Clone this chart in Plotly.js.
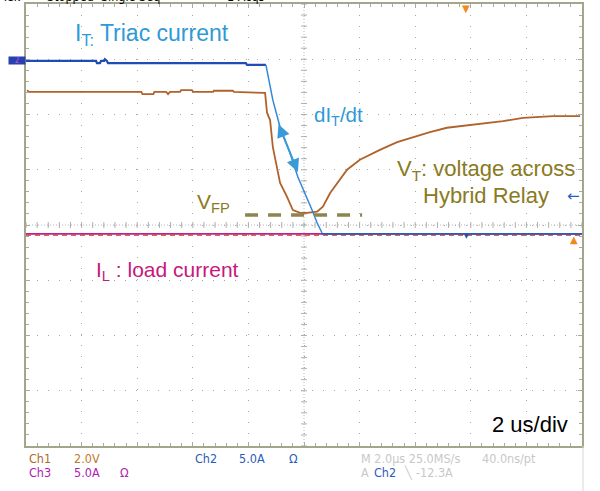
<!DOCTYPE html>
<html><head><meta charset="utf-8">
<script src="https://cdn.plot.ly/plotly-3.0.1.min.js"></script>
<style>html,body{margin:0;padding:0;background:#fff;}#chart{width:600px;height:491px;}</style>
</head><body><div id="chart"></div>
<script>
// time in microseconds (2 us/div), values in screen divisions
const tItFlat = [-10, -7.48, -7.45, -7.34, -7.30, -7.19, -7.16, -7.09, -7.05, -2.09, -2.05, -1.37];
const iItFlat = [2.97, 2.97, 2.93, 2.93, 2.97, 2.97, 3.00, 2.97, 2.93, 2.93, 2.90, 2.90];
const tItFall = [-1.37, -1.12, -0.86, -0.50, -0.22, 0.04, 0.29, 0.47, 0.65];
const iItFall = [2.90, 2.26, 1.77, 1.30, 0.87, 0.58, 0.27, 0.04, -0.145];
const tItLow = [0.65, 10];
const iItLow = [-0.16, -0.16];

const tVt = [-9.96, -9.93, -9.9, -5.85, -5.81, -5.42, -5.38, -4.96, -4.89, -4.82, -4.46, -4.42, -4.03, -3.99, -3.27, -3.24, -2.56, -2.52, -1.40,
             -1.33, -1.22, -1.12, -0.97, -0.86, -0.61, -0.40, -0.14, 0.11, 0.47, 0.68, 0.94, 1.19, 1.55, 2.01, 2.73, 3.35, 3.92, 4.53, 5.14, 5.97, 6.58, 7.16, 7.88, 8.96, 9.93];
const vVt = [2.44, 2.41, 2.41, 2.41, 2.37, 2.37, 2.41, 2.41, 2.37, 2.41, 2.41, 2.44, 2.44, 2.41, 2.41, 2.43, 2.43, 2.41, 2.39,
             2.03, 1.90, 1.41, 1.00, 0.76, 0.51, 0.27, 0.22, 0.22, 0.24, 0.33, 0.58, 0.76, 1.00, 1.18, 1.36, 1.50, 1.59, 1.68, 1.76, 1.81, 1.85, 1.88, 1.94, 1.97, 1.97];

const tIl = [-10, 10];
const iIl = [-0.16, -0.16];
const tRef = [-10, 10];
const vRef = [-0.185, -0.185];

const tVfp = [-2.12, 2.09];
const vVfp = [0.18, 0.18];

const arrowFrom = [-0.94, 1.85];
const arrowTo = [-0.22, 0.96];

const COL_IT = '#2f9ad6';
const COL_OLIVE = '#8a7a22';
const COL_MAG = '#c8177d';
const MAIN_FONT = 'Liberation Sans, Arial, sans-serif';
const SCOPE_FONT = 'Liberation Sans Narrow, DejaVu Sans Condensed, Arial Narrow, sans-serif';

const traces = [
  {x: tRef, y: vRef, mode: 'lines', line: {color: '#e8662a', width: 1.6, dash: '5px,4px'}},
  {x: tIl, y: iIl, mode: 'lines', line: {color: '#b8209a', width: 1.6}},
  {x: tItLow, y: iItLow, mode: 'lines', line: {color: '#2a5cc0', width: 1.8}},
  {x: tVt, y: vVt, mode: 'lines', line: {color: '#b0622a', width: 1.8}},
  {x: tItFlat, y: iItFlat, mode: 'lines', line: {color: '#1f4db3', width: 2.2}},
  {x: tItFall, y: iItFall, mode: 'lines', line: {color: '#3388d6', width: 1.5}},
  {x: tVfp, y: vVfp, mode: 'lines', line: {color: '#8d8550', width: 3.5, dash: '13px,10px'}}
];

const gridCol = '#a8a8a8';
const frameAxisX = {
  range: [-10, 10], dtick: 2, tick0: 0, showgrid: true, gridcolor: gridCol, gridwidth: 1, griddash: '1px,10px',
  showline: true, mirror: 'allticks', linecolor: '#a3a68a', linewidth: 2,
  ticks: 'inside', ticklen: 4, tickcolor: gridCol, showticklabels: false, zeroline: false,
  minor: {dtick: 0.4, ticks: 'inside', ticklen: 3, tickcolor: gridCol, showgrid: false}, fixedrange: true
};
const frameAxisY = {
  range: [-4, 4], dtick: 1, tick0: 0, showgrid: true, gridcolor: gridCol, gridwidth: 1, griddash: '1px,10px',
  showline: true, mirror: 'allticks', linecolor: '#a3a68a', linewidth: 2,
  ticks: 'inside', ticklen: 4, tickcolor: gridCol, showticklabels: false, zeroline: false,
  minor: {dtick: 0.2, ticks: 'inside', ticklen: 3, tickcolor: gridCol, showgrid: false}, fixedrange: true
};

// center crosshair tick marks (decoration, 5 per division)
let hTicks = '', vTicks = '';
for (let i = 0; i <= 50; i++) { const f = i / 50; hTicks += 'M' + f + ',-3L' + f + ',3'; }
for (let i = 0; i <= 40; i++) { const f = i / 40; vTicks += 'M-3,' + f + 'L3,' + f; }

function px2x(p) { return (p - 26) / 556; }
function px2y(p) { return (446 - p) / 442; }

function scopeText(text, px, py, color) {
  return {text: text, xref: 'paper', yref: 'paper', x: px2x(px), y: px2y(py), xanchor: 'left', yanchor: 'middle',
    showarrow: false, font: {family: SCOPE_FONT, size: 12.5, color: color}};
}

const annotations = [
  {text: 'I<sub>T:</sub> Triac current', x: -8.31, y: 3.45, xanchor: 'left', yanchor: 'middle', showarrow: false,
   font: {family: MAIN_FONT, size: 23, color: COL_IT}},
  {text: 'dI<sub>T</sub>/dt', x: 0.28, y: 1.98, xanchor: 'left', yanchor: 'middle', showarrow: false,
   font: {family: MAIN_FONT, size: 20.5, color: COL_IT}},
  {text: 'V<sub>T</sub>: voltage across', x: 6.55, y: 1.0, xanchor: 'center', yanchor: 'middle', showarrow: false,
   font: {family: MAIN_FONT, size: 22, color: COL_OLIVE}},
  {text: 'Hybrid Relay', x: 6.55, y: 0.53, xanchor: 'center', yanchor: 'middle', showarrow: false,
   font: {family: MAIN_FONT, size: 22, color: COL_OLIVE}},
  {text: 'V<sub>FP</sub>', x: -3.92, y: 0.40, xanchor: 'left', yanchor: 'middle', showarrow: false,
   font: {family: MAIN_FONT, size: 21, color: COL_OLIVE}},
  {text: 'I<sub>L</sub> : load current', x: -7.55, y: -0.83, xanchor: 'left', yanchor: 'middle', showarrow: false,
   font: {family: MAIN_FONT, size: 21, color: COL_MAG}},
  {text: '2 us/div', x: 6.69, y: -3.61, xanchor: 'left', yanchor: 'middle', showarrow: false,
   font: {family: MAIN_FONT, size: 22, color: '#000000'}},
  // double-headed dI/dt arrow
  {x: arrowTo[0], y: arrowTo[1], ax: arrowFrom[0], ay: arrowFrom[1], axref: 'x', ayref: 'y', text: '',
   showarrow: true, arrowhead: 2, startarrowhead: 2, arrowside: 'end+start', arrowsize: 1.3, startarrowsize: 1.3,
   arrowwidth: 2, arrowcolor: '#3a9ad8', standoff: 0, startstandoff: 0},
  // scope markers
  {text: '2', xref: 'paper', x: px2x(8), xanchor: 'left', y: 2.97, showarrow: false, bgcolor: '#2a3fb0', width: 16, height: 7,
   borderpad: 0, font: {family: SCOPE_FONT, size: 8, color: '#b060d0'}},
  {text: '\u2190', x: 9.71, y: 0.52, showarrow: false, font: {family: 'DejaVu Sans', size: 15, color: '#2a5cc0'}},
  {text: '\u25B2', x: 9.71, y: -0.27, showarrow: false, font: {family: 'DejaVu Sans', size: 10, color: '#f08a1c'}},
  {text: '\u25BC', x: 5.83, y: 3.92, showarrow: false, font: {family: 'DejaVu Sans', size: 10, color: '#f08a1c'}},
  {text: '\u25BC', x: 5.83, y: -0.19, showarrow: false, font: {family: 'DejaVu Sans', size: 6, color: '#2050b0'}},
  // bottom status text
  scopeText('Ch1', 27, 459, '#b0682a'),
  scopeText('2.0V', 72, 459, '#c07a2a'),
  scopeText('Ch2', 193, 459, '#2a5cb8'),
  scopeText('5.0A', 237, 459, '#2a5cb8'),
  scopeText('\u03A9', 287, 459, '#2a5cb8'),
  scopeText('Ch3', 27, 472, '#b020b0'),
  scopeText('5.0A', 72, 472, '#b020b0'),
  scopeText('\u03A9', 118, 472, '#b020b0'),
  scopeText('M 2.0\u00B5s 25.0MS/s', 359, 459, '#c8c8c8'),
  scopeText('40.0ns/pt', 480, 459, '#c8c8c8'),
  scopeText('A', 359, 472, '#c8c8c8'),
  scopeText('Ch2', 372, 472, '#2a5cb8'),
  scopeText('\u2572', 402, 472, '#c8c8c8'),
  scopeText('-12.3A', 414, 472, '#c8c8c8'),
  // cropped header
  scopeText('Tek', -1, -4, '#000000'),
  scopeText('Stopped  Single Seq', 45, -4, '#000000'),
  scopeText('1 Acqs', 225, -4, '#000000')
];

const layout = {
  width: 600, height: 491,
  margin: {l: 26, r: 18, t: 4, b: 45, pad: 0},
  paper_bgcolor: '#ffffff', plot_bgcolor: '#ffffff',
  showlegend: false,
  xaxis: frameAxisX, yaxis: frameAxisY,
  annotations: annotations,
  shapes: [
    {type: 'line', xref: 'paper', yref: 'paper', x0: 0, x1: 1, y0: 0.5, y1: 0.5, layer: 'below',
     line: {color: '#b8b8b8', width: 1, dash: '1px,2px'}},
    {type: 'line', xref: 'paper', yref: 'paper', x0: 0.5, x1: 0.5, y0: 0, y1: 1, layer: 'below',
     line: {color: '#b8b8b8', width: 1, dash: '1px,2px'}},
    {type: 'path', xref: 'paper', yref: 'paper', ysizemode: 'pixel', yanchor: 0.5, path: hTicks, layer: 'below',
     line: {color: '#b0b0b0', width: 1}},
    {type: 'path', xref: 'paper', yref: 'paper', xsizemode: 'pixel', xanchor: 0.5, path: vTicks, layer: 'below',
     line: {color: '#b0b0b0', width: 1}},
    {type: 'line', xref: 'paper', yref: 'paper', x0: px2x(583), x1: px2x(583), y0: px2y(491), y1: 0,
     line: {color: '#d8d8d8', width: 1}}
  ]
};

Plotly.newPlot('chart', traces, layout, {staticPlot: true, displayModeBar: false});
</script></body></html>
